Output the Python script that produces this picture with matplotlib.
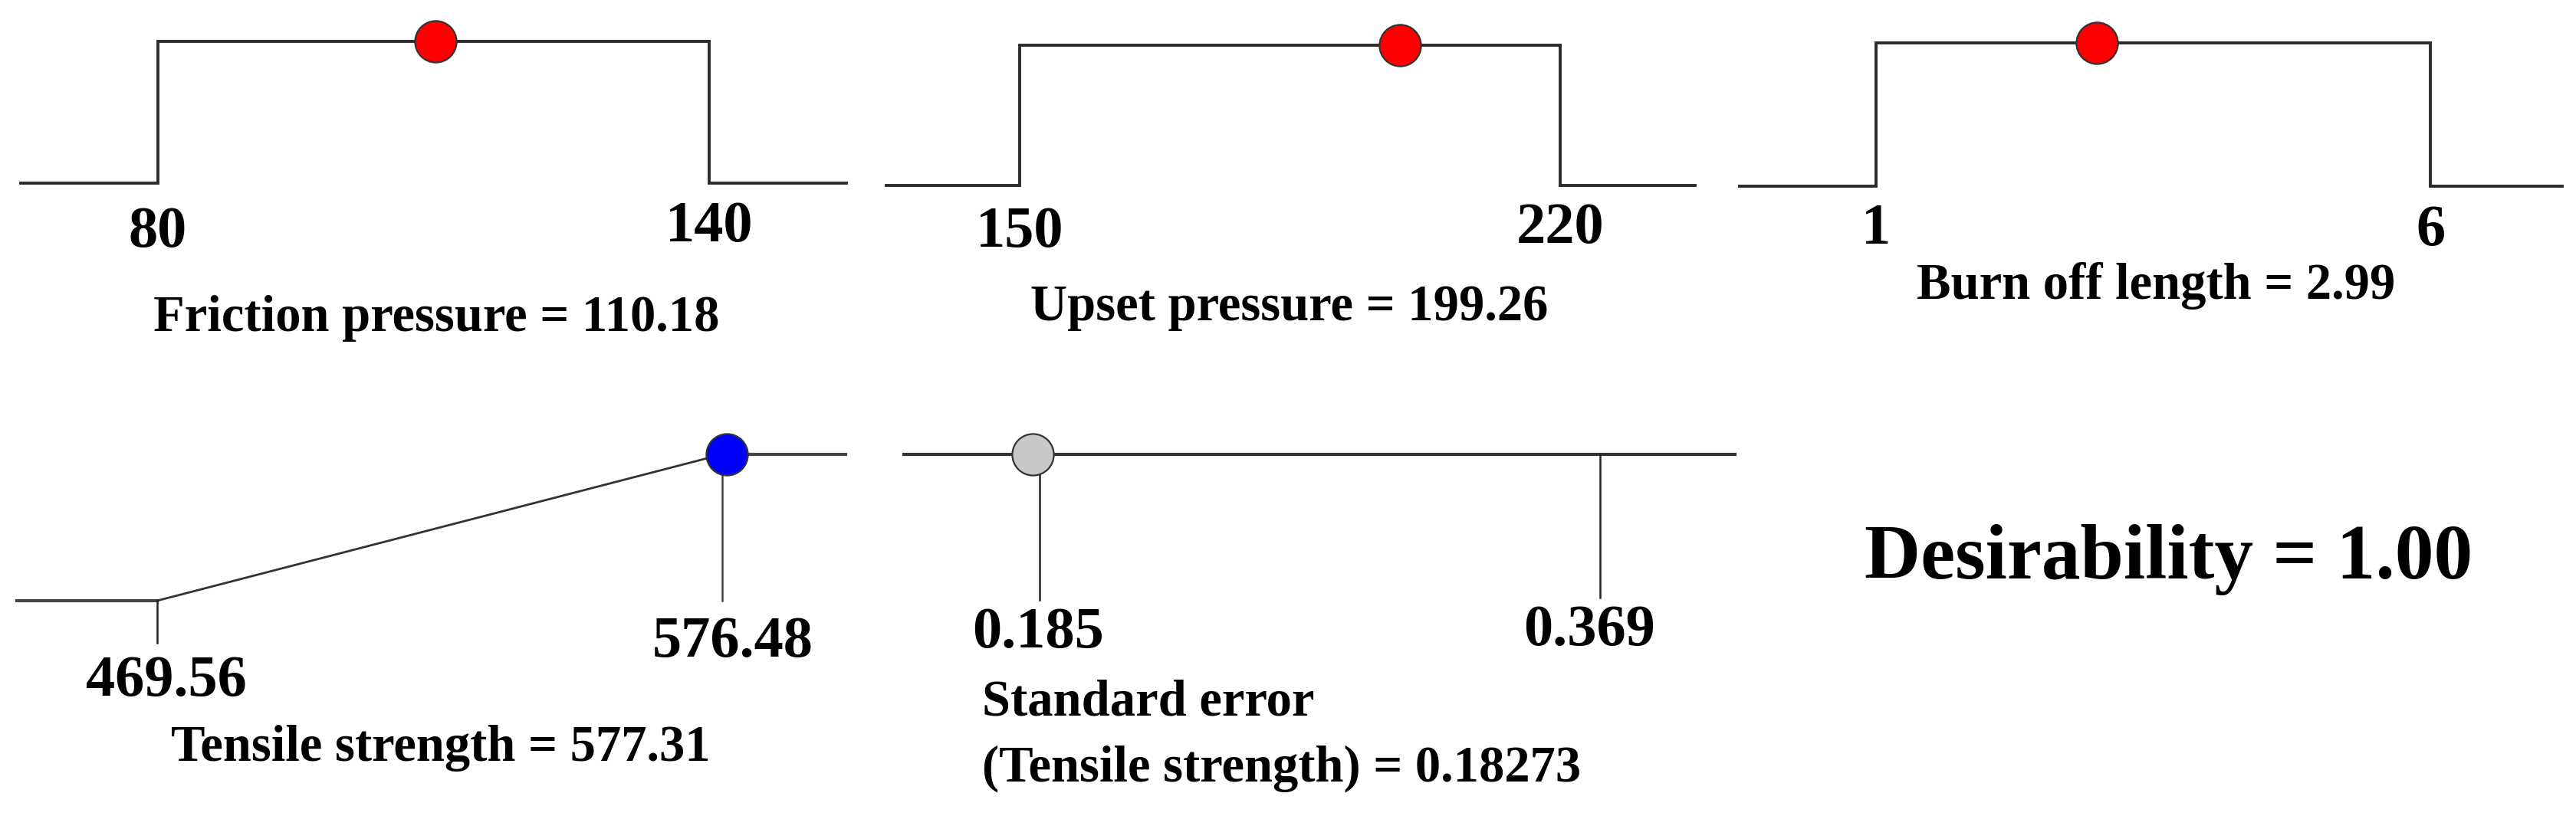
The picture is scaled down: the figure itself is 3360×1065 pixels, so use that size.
import matplotlib
matplotlib.use("Agg")
import matplotlib.pyplot as plt

# ---------------- data ----------------
factor_names = ["Friction pressure", "Upset pressure", "Burn off length"]
factor_low = [80, 150, 1]
factor_high = [140, 220, 6]
factor_opt = [110.18, 199.26, 2.99]
factor_low_labels = ["80", "150", "1"]
factor_high_labels = ["140", "220", "6"]
factor_opt_labels = ["110.18", "199.26", "2.99"]

ts_low, ts_high, ts_value = 469.56, 576.48, 577.31
ts_labels = ["469.56", "576.48"]
ts_value_label = "577.31"

se_low, se_high, se_value = 0.185, 0.369, 0.18273
se_labels = ["0.185", "0.369"]
se_value_label = "0.18273"

desirability = 1.00

# ---------------- layout (pixels) ----------------
W, H, DPI = 3360, 1065, 100
fig = plt.figure(figsize=(W / DPI, H / DPI), dpi=DPI)
fig.patch.set_facecolor("white")

FONT = "Liberation Serif"
LINE_C = "#2b2b2b"
TICK_FS = 55
TITLE_FS = 48

def fx(px):
    return px / W

def fy(py):
    return 1 - py / H

def make_axes(px_left, px_right, px_base, px_top, px_lo, px_hi, lo, hi):
    ax = fig.add_axes([fx(px_left), fy(px_base), (px_right - px_left) / W,
                       (px_base - px_top) / H])
    scale = (px_hi - px_lo) / (hi - lo)
    ax.set_xlim(lo - (px_lo - px_left) / scale, hi + (px_right - px_hi) / scale)
    ax.set_ylim(0, 1)
    ax.axis("off")
    return ax

def marker(ax, x, y, color):
    ax.plot([x], [y], marker="o", markersize=39, markerfacecolor=color,
            markeredgecolor="#333333", markeredgewidth=1.6, linestyle="none",
            clip_on=False, zorder=5)

# factor panels
f_layout = [
    # left, right, base, top, lo_px, hi_px
    (27, 1104, 239, 54, 206, 925),
    (1156, 2211, 242, 59, 1330, 2035),
    (2269, 3342, 243, 56, 2447, 3170),
]
lo_lab_base = [322, 322, 318]
hi_lab_base = [315, 317, 320]
title_pos = [(569, 432), (1682, 418), (2812, 390)]

for i in range(3):
    l, r, b, t, plo, phi = f_layout[i]
    lo, hi = factor_low[i], factor_high[i]
    ax = make_axes(l, r, b, t, plo, phi, lo, hi)
    x0, x1 = ax.get_xlim()
    ax.plot([x0, lo, lo, hi, hi, x1], [0, 0, 1, 1, 0, 0], color=LINE_C,
            lw=2.8, solid_joinstyle="miter", clip_on=False)
    marker(ax, factor_opt[i], 1, "#ff0000")
    fig.text(fx(plo), fy(lo_lab_base[i]), factor_low_labels[i], ha="center",
             va="baseline", fontsize=TICK_FS, fontweight="bold", family=FONT)
    fig.text(fx(phi), fy(hi_lab_base[i]), factor_high_labels[i], ha="center",
             va="baseline", fontsize=TICK_FS, fontweight="bold", family=FONT)
    fig.text(fx(title_pos[i][0]), fy(title_pos[i][1]),
             f"{factor_names[i]} = {factor_opt_labels[i]}", ha="center",
             va="baseline", fontsize=TITLE_FS, fontweight="bold", family=FONT)

# tensile strength panel
ax = make_axes(22, 1103, 784, 593, 205, 942, ts_low, ts_high)
x0, x1 = ax.get_xlim()
ax.plot([x0, ts_low], [0, 0], color="#444444", lw=3.0, clip_on=False)
ax.plot([ts_low, ts_high], [0, 1], color="#333333", lw=2.0, clip_on=False)
ax.plot([ts_high, x1], [1, 1], color="#444444", lw=3.0, clip_on=False)
ax.plot([ts_low, ts_low], [0, -0.29], color="#222222", lw=1.8, clip_on=False)
ax.plot([ts_high, ts_high], [1, 0], color="#444444", lw=1.8, clip_on=False)
marker(ax, ts_value, 1, "#0000ff")
fig.text(fx(217), fy(908), ts_labels[0], ha="center", va="baseline",
         fontsize=TICK_FS, fontweight="bold", family=FONT)
fig.text(fx(956), fy(857), ts_labels[1], ha="center", va="baseline",
         fontsize=TICK_FS, fontweight="bold", family=FONT)
fig.text(fx(575), fy(993), f"Tensile strength = {ts_value_label}", ha="center",
         va="baseline", fontsize=TITLE_FS, fontweight="bold", family=FONT)

# standard error panel
ax = make_axes(1179, 2263, 783, 593, 1356, 2087, se_low, se_high)
x0, x1 = ax.get_xlim()
ax.plot([x0, x1], [1, 1], color="#333333", lw=3.0, clip_on=False)
ax.plot([se_low, se_low], [1, 0], color="#222222", lw=1.8, clip_on=False)
ax.plot([se_high, se_high], [1, 0.015], color="#222222", lw=1.8, clip_on=False)
marker(ax, se_value, 1, "#c8c8c8")
fig.text(fx(1354), fy(845), se_labels[0], ha="center", va="baseline",
         fontsize=TICK_FS, fontweight="bold", family=FONT)
fig.text(fx(2073), fy(842), se_labels[1], ha="center", va="baseline",
         fontsize=TICK_FS, fontweight="bold", family=FONT)
fig.text(fx(1281), fy(933), "Standard error", ha="left", va="baseline",
         fontsize=TITLE_FS, fontweight="bold", family=FONT)
fig.text(fx(1281), fy(1020), f"(Tensile strength) = {se_value_label}", ha="left",
         va="baseline", fontsize=TITLE_FS, fontweight="bold", family=FONT)

# desirability
fig.text(fx(2829), fy(755), f"Desirability = {desirability:.2f}", ha="center",
         va="baseline", fontsize=73, fontweight="bold", family=FONT)

fig.savefig("out.png", dpi=DPI, facecolor="white")
